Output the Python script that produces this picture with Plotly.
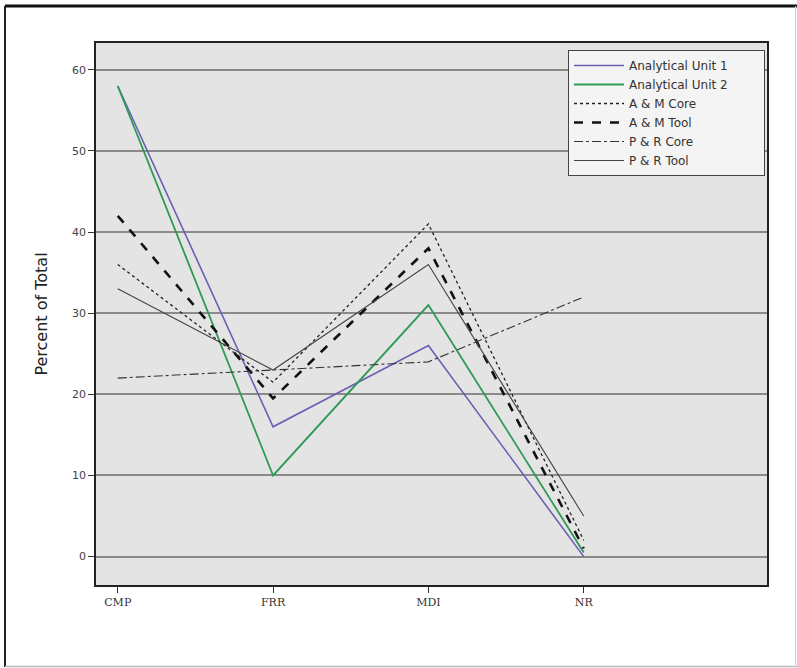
import plotly.graph_objects as go

categories = ["CMP", "FRR", "MDI", "NR"]
unit1 = [58, 16, 26, 0]
unit2 = [58, 10, 31, 0.5]
am_core = [36, 21.5, 41, 2]
am_tool = [42, 19.5, 38, 1]
pr_core = [22, 23, 24, 32]
pr_tool = [33, 23, 36, 5]

series = [
    ("Analytical Unit 1", unit1, "#6a5fb5", 1.6, "solid"),
    ("Analytical Unit 2", unit2, "#2e9a55", 1.8, "solid"),
    ("A &amp; M Core", am_core, "#222222", 1.3, "dot"),
    ("A &amp; M Tool", am_tool, "#111111", 2.6, "dash"),
    ("P &amp; R Core", pr_core, "#333333", 1.1, "dashdot"),
    ("P &amp; R Tool", pr_tool, "#444444", 1.1, "solid"),
]

xpos = list(range(len(categories)))
fig = go.Figure()
pad = "&nbsp;" * 8
for i, (name, vals, color, width, dash) in enumerate(series):
    label = name + (pad if i == 1 else "")
    fig.add_trace(go.Scatter(x=xpos, y=vals, mode="lines", name=label,
                             line=dict(color=color, width=width, dash=dash)))

W, H = 797, 668
L, R, T, B = 96, 30, 43, 83
pw, ph = W - L - R, H - T - B


def px(x):
    return (x - L) / pw


def py(y):
    return (H - B - y) / ph


fig.update_layout(
    width=W, height=H,
    margin=dict(l=L, r=R, t=T, b=B),
    paper_bgcolor="white",
    plot_bgcolor="#e4e4e4",
    font=dict(family="DejaVu Sans", color="#222"),
    showlegend=True,
    legend=dict(x=px(765), y=py(50), xanchor="right", yanchor="top",
                bgcolor="#f4f4f4", bordercolor="#444", borderwidth=1,
                font=dict(size=12, color="#333"), tracegroupgap=0,
                itemwidth=50),
    shapes=[
        dict(type="line", xref="paper", yref="paper",
             x0=px(5), x1=px(797), y0=py(6), y1=py(6),
             line=dict(color="#111", width=3)),
        dict(type="line", xref="paper", yref="paper",
             x0=px(5), x1=px(5), y0=py(6), y1=py(667),
             line=dict(color="#222", width=2)),
        dict(type="line", xref="paper", yref="paper",
             x0=px(5), x1=px(797), y0=py(666.5), y1=py(666.5),
             line=dict(color="#b8b8b8", width=1.5)),
        dict(type="line", xref="paper", yref="paper",
             x0=px(795.5), x1=px(795.5), y0=py(6), y1=py(667),
             line=dict(color="#cfcfcf", width=1)),
    ],
)
fig.update_xaxes(range=[-0.14, 4.18], tickvals=xpos, ticktext=categories,
                 showgrid=False, zeroline=False, ticks="outside", ticklen=6,
                 tickcolor="#333", showline=True, linecolor="#222", linewidth=1.5,
                 mirror=True, tickfont=dict(family="DejaVu Serif", size=11, color="#333"))
fig.update_yaxes(range=[-3.5, 63.3], tickvals=[0, 10, 20, 30, 40, 50, 60],
                 showgrid=True, gridcolor="#8a8a8a", gridwidth=1.5, zeroline=False,
                 ticks="outside", ticklen=6, tickcolor="#333",
                 showline=True, linecolor="#222", linewidth=1.5, mirror=True,
                 tickfont=dict(size=11, color="#444"),
                 title=dict(text="Percent of Total", font=dict(size=16, color="#222"),
                            standoff=20))

fig.write_html("out.html")
